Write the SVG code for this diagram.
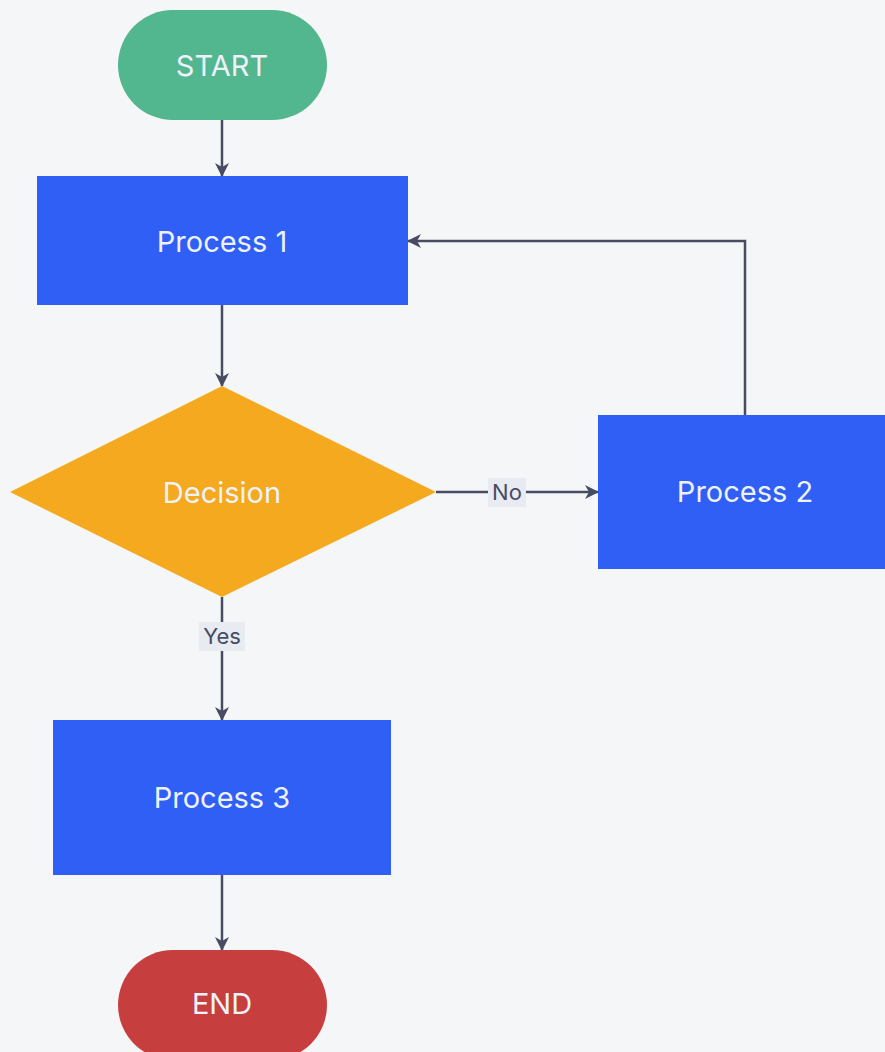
<svg xmlns="http://www.w3.org/2000/svg" width="885" height="1052" viewBox="0 0 885 1052">
<defs>
<style>
.lbl{font-family:Inter,"Liberation Sans",sans-serif;font-size:29px;fill:#eef2fa;text-anchor:middle;dominant-baseline:central}
.elbl{font-family:Inter,"Liberation Sans",sans-serif;font-size:22px;fill:#474c63;text-anchor:middle;dominant-baseline:central}
.edge{fill:none;stroke:#474c63;stroke-width:2.5}
.lblbg{fill:#e8ebf1}
.proc{fill:#2f5ff5}
</style>
<marker id="ah" viewBox="0 0 14 14" refX="13" refY="7" markerWidth="14" markerHeight="14" markerUnits="userSpaceOnUse" orient="auto">
<path d="M0,0 L14,7 L0,14 L4,7 Z" fill="#474c63"/>
</marker>
</defs>
<rect x="0" y="0" width="885" height="1052" fill="#f5f6f8"/>
<g id="connectors">
<path class="edge" d="M222,120 V176" marker-end="url(#ah)"/>
<path class="edge" d="M222,305 V386" marker-end="url(#ah)"/>
<path class="edge" d="M436,492 H598" marker-end="url(#ah)"/>
<path class="edge" d="M745,415 V241 H408" marker-end="url(#ah)"/>
<path class="edge" d="M222,597 V720" marker-end="url(#ah)"/>
<path class="edge" d="M222,875 V950" marker-end="url(#ah)"/>
<rect class="lblbg" x="488" y="478" width="38" height="29"/>
<text class="elbl" x="507" y="492">No</text>
<rect class="lblbg" x="199" y="622" width="46" height="29"/>
<text class="elbl" x="222" y="636">Yes</text>
</g>
<g id="start">
<rect x="118" y="10" width="209" height="110" rx="55" ry="55" fill="#52b68e"/>
<text class="lbl" x="222" y="65">START</text>
</g>
<g id="process1">
<rect class="proc" x="37" y="176" width="371" height="129"/>
<text class="lbl" x="222" y="241">Process 1</text>
</g>
<g id="decision">
<polygon points="222,386 436,492 222,597 10,492" fill="#f5a91f"/>
<text class="lbl" x="222" y="492">Decision</text>
</g>
<g id="process2">
<rect class="proc" x="598" y="415" width="294" height="154"/>
<text class="lbl" x="745" y="491">Process 2</text>
</g>
<g id="process3">
<rect class="proc" x="53" y="720" width="338" height="155"/>
<text class="lbl" x="222" y="797">Process 3</text>
</g>
<g id="end">
<rect x="118" y="950" width="209" height="110" rx="55" ry="55" fill="#c73e3e"/>
<text class="lbl" x="222" y="1003">END</text>
</g>
</svg>
